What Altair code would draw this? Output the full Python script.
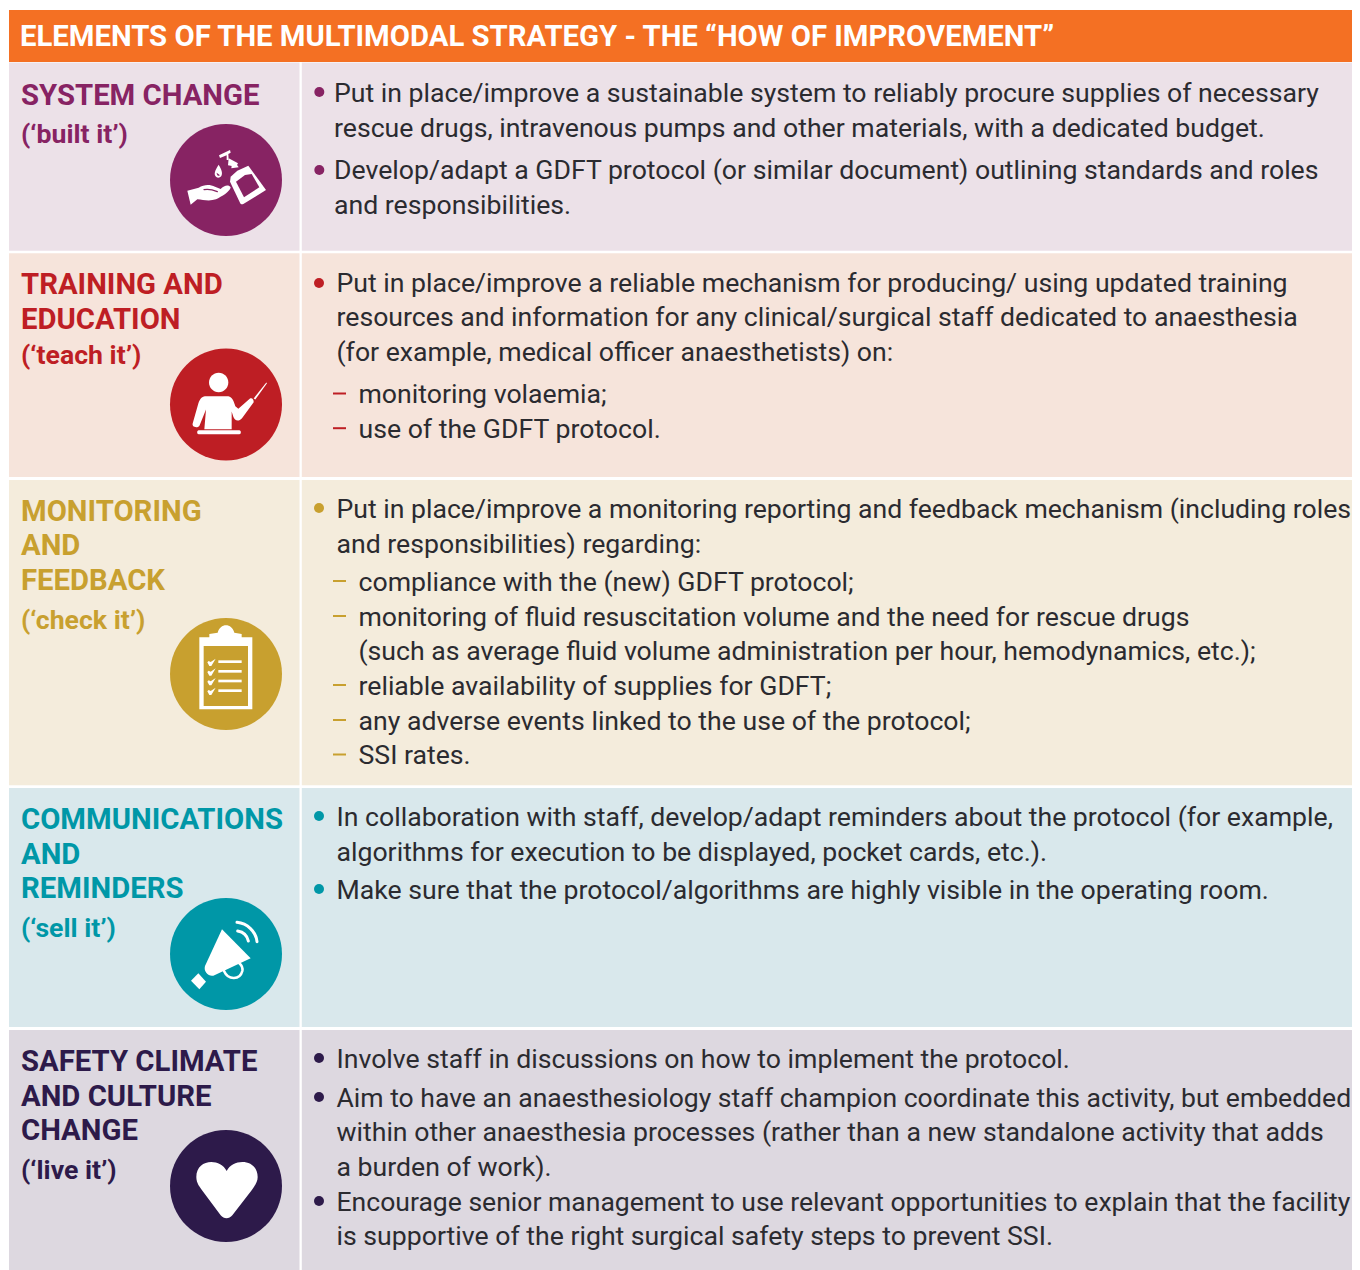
import re
import altair as alt
import pandas as pd

# ---------- content ----------
HEADER = "ELEMENTS OF THE MULTIMODAL STRATEGY - THE “HOW OF IMPROVEMENT”"
TITLES = [
    ["SYSTEM CHANGE"],
    ["TRAINING AND", "EDUCATION"],
    ["MONITORING", "AND", "FEEDBACK"],
    ["COMMUNICATIONS", "AND", "REMINDERS"],
    ["SAFETY CLIMATE", "AND CULTURE", "CHANGE"],
]
TAGS = ["(‘built it’)", "(‘teach it’)", "(‘check it’)", "(‘sell it’)", "(‘live it’)"]
BODY = [
    ["Put in place/improve a sustainable system to reliably procure supplies of necessary",
     "rescue drugs, intravenous pumps and other materials, with a dedicated budget.",
     "Develop/adapt a GDFT protocol (or similar document) outlining standards and roles",
     "and responsibilities."],
    ["Put in place/improve a reliable mechanism for producing/ using updated training",
     "resources and information for any clinical/surgical staff dedicated to anaesthesia",
     "(for example, medical officer anaesthetists) on:",
     "monitoring volaemia;",
     "use of the GDFT protocol."],
    ["Put in place/improve a monitoring reporting and feedback mechanism (including roles",
     "and responsibilities) regarding:",
     "compliance with the (new) GDFT protocol;",
     "monitoring of fluid resuscitation volume and the need for rescue drugs",
     "(such as average fluid volume administration per hour, hemodynamics, etc.);",
     "reliable availability of supplies for GDFT;",
     "any adverse events linked to the use of the protocol;",
     "SSI rates."],
    ["In collaboration with staff, develop/adapt reminders about the protocol (for example,",
     "algorithms for execution to be displayed, pocket cards, etc.).",
     "Make sure that the protocol/algorithms are highly visible in the operating room."],
    ["Involve staff in discussions on how to implement the protocol.",
     "Aim to have an anaesthesiology staff champion coordinate this activity, but embedded",
     "within other anaesthesia processes (rather than a new standalone activity that adds",
     "a burden of work).",
     "Encourage senior management to use relevant opportunities to explain that the facility",
     "is supportive of the right surgical safety steps to prevent SSI."],
]

# ---------- styles ----------
ORANGE = "#F47023"
INK = "#2B2B30"
ACCENT = ["#872363", "#BE1E24", "#C8A02F", "#0097A7", "#2D1A4A"]
TINT = ["#ECE1E8", "#F6E4DB", "#F4ECDC", "#D9E8EC", "#DDD8E0"]

# ---------- layout (page pixels) ----------
PAGE_W = 1352  # the page has room for a 1344 px wide chart
ROW_TOP = [62.5, 253.3, 480, 788, 1030]
ROW_BOTTOM = [250.8, 477, 785.3, 1027, 1270]
TITLE_Y = [[105], [294, 329], [521, 555, 590], [829, 864, 898], [1071, 1106, 1140]]
TAG_Y = [143, 364, 629, 937, 1179]
BODY_Y = [[102, 137, 179, 214], [292, 326, 361, 403, 438],
          [518, 553, 591, 626, 660, 695, 730, 764], [826, 861, 899],
          [1068, 1107, 1141, 1176, 1211, 1245]]
BODY_X = [[334, 334, 334, 334], [336.5, 336.5, 336.5, 358.5, 358.5],
          [336.5, 336.5, 358.5, 358.5, 358.5, 358.5, 358.5, 358.5],
          [336.5, 336.5, 336.5], [336.5, 336.5, 336.5, 336.5, 336.5, 336.5]]
BULLET_Y = [[92, 170], [283], [508], [816, 889], [1058, 1097, 1201]]
BULLET_X = [319.3, 319, 319, 319, 319]
DASH_Y = [[], [393.5, 428.2], [581, 616, 685, 720, 754.5], [], []]
ICON_Y = [180, 404.5, 674, 954, 1186]
ICON_X = 226
ICON_D = 112
BODY_SIZE = 26.65
LONG_SIZE = {(2, 0): 26.62, (4, 1): 26.55, (4, 4): 26.55}  # lines that reach the right edge
TITLE_SIZE = 29.3
HEADER_SIZE = 29.3
TAG_SIZE = 26.65

SX = alt.Scale(domain=[8, PAGE_W], range=[0, PAGE_W - 8])
SY = alt.Scale(domain=[8, 1270], range=[0, 1262])
X = alt.X("x:Q", scale=SX, axis=None)
Y = alt.Y("y:Q", scale=SY, axis=None)
X2 = alt.X2("x2:Q")
Y2 = alt.Y2("y2:Q")
FILL = alt.Color("c:N", scale=None, legend=None)

# ---------- tables ----------
rects = [dict(x=9, x2=PAGE_W, y=10, y2=62, c=ORANGE)]
for top, bot, t in zip(ROW_TOP, ROW_BOTTOM, TINT):
    rects.append(dict(x=9, x2=299.5, y=top, y2=bot, c=t))
    rects.append(dict(x=301.8, x2=PAGE_W, y=top, y2=bot, c=t))

title_rows, tag_rows, body_rows, bullet_rows, dash_rows = [], [], [], [], []
for i in range(5):
    for s, y in zip(TITLES[i], TITLE_Y[i]):
        title_rows.append(dict(x=21, y=y, t=s, c=ACCENT[i]))
    tag_rows.append(dict(x=21, y=TAG_Y[i], t=TAGS[i], c=ACCENT[i]))
    for j, (s, x, y) in enumerate(zip(BODY[i], BODY_X[i], BODY_Y[i])):
        body_rows.append(dict(x=x, y=y, t=s, fs=LONG_SIZE.get((i, j), BODY_SIZE)))
    for y in BULLET_Y[i]:
        bullet_rows.append(dict(x=BULLET_X[i], y=y, c=ACCENT[i]))
    for y in DASH_Y[i]:
        dash_rows.append(dict(x=333, x2=346, y=y, c=ACCENT[i]))

layers = [
    alt.Chart(pd.DataFrame(rects)).mark_rect(stroke=None).encode(x=X, x2=X2, y=Y, y2=Y2, color=FILL),
    alt.Chart(pd.DataFrame([dict(x=20, y=46, t=HEADER)])).mark_text(
        align="left", baseline="alphabetic", font="Roboto", fontWeight=700, fontSize=HEADER_SIZE, color="#FFFFFF"
    ).encode(x=X, y=Y, text="t:N"),
    alt.Chart(pd.DataFrame(title_rows)).mark_text(
        align="left", baseline="alphabetic", font="Roboto", fontWeight=700, fontSize=TITLE_SIZE
    ).encode(x=X, y=Y, text="t:N", color=FILL),
    alt.Chart(pd.DataFrame(tag_rows)).mark_text(
        align="left", baseline="alphabetic", font="Roboto", fontWeight=700, fontSize=TAG_SIZE
    ).encode(x=X, y=Y, text="t:N", color=FILL),
    alt.Chart(pd.DataFrame(body_rows)).mark_text(
        align="left", baseline="alphabetic", font="Roboto", fontWeight=400, color=INK
    ).encode(x=X, y=Y, text="t:N", size=alt.Size("fs:Q", scale=None, legend=None)),
    alt.Chart(pd.DataFrame(bullet_rows)).mark_point(filled=True, shape="circle", size=100, opacity=1, strokeWidth=0).encode(
        x=X, y=Y, color=FILL),
    alt.Chart(pd.DataFrame(dash_rows)).mark_rule(strokeWidth=2).encode(x=X, x2=X2, y=Y, color=FILL),
    alt.Chart(pd.DataFrame([dict(x=ICON_X, y=y, c=c) for y, c in zip(ICON_Y, ACCENT)])).mark_point(
        filled=True, shape="circle", size=ICON_D ** 2, opacity=1, strokeWidth=0
    ).encode(x=X, y=Y, color=FILL),
]


# ---------- icon glyphs, traced from the 3x view (cx, cy = disc centre in that view) ----------
def glyph(d, cx, cy):
    n = [0]
    def rep(m):
        v = float(m.group(0))
        k = n[0]
        n[0] += 1
        return f"{((v - (cy if k % 2 else cx)) / 3):.2f}"
    return re.sub(r"-?\d+(\.\d+)?", rep, d)


def icon(i, d, cx, cy, fill="#FFFFFF", stroke=None, sw=0):
    kw = dict(shape=glyph(d, cx, cy), size=4, opacity=1)
    if stroke:
        kw.update(filled=False, stroke=stroke, strokeWidth=sw, strokeCap="round")
    else:
        kw.update(filled=True, fill=fill, strokeWidth=0)
    return alt.Chart(pd.DataFrame([dict(x=ICON_X, y=ICON_Y[i])])).mark_point(**kw).encode(x=X, y=Y)


W = "#FFFFFF"
# soap and hand
C1 = (678, 540)
layers += [
    icon(0, "M562 572 L596 563 C612 553 630 553 645 560 L662 567 C672 556 686 552 692 562 C690 575 665 590 648 598 C630 604 610 600 592 598 L572 614 Z", *C1),
    icon(0, "M612 569 C625 566 640 570 652 575", *C1, stroke=ACCENT[0], sw=1.2),
    icon(0, "M692 530 L712 512 L745 497 L798 570 L730 612 C725 614 722 612 720 608 L690 545 Z", *C1),
    icon(0, "M694 505 L696 490 L712 496 L716 502 Z", *C1),
    icon(0, "M686 475 L714 490 L708 500 L684 496 Z", *C1),
    icon(0, "M657 466 L690 450 L692 458 L685 462 L686 480 L680 480 L680 466 L660 474 Z", *C1),
    icon(0, "M708 545 L735 525 L755 522 L778 562 L732 592 Z", *C1, fill=ACCENT[0]),
    icon(0, "M656 494 C666 510 668 520 664 528 C658 536 648 534 645 526 C642 518 648 506 656 494 Z", *C1),
    icon(0, "M650 518 C650 525 655 530 660 526 L655 522 Z", *C1, fill=ACCENT[0]),
]
# teacher
C2 = (228, 193)
layers += [
    icon(1, "M206 98 C222 98 235 111 235 127 C235 143 222 156 206 156 C190 156 177 143 177 127 C177 111 190 98 206 98 Z", *C2),
    icon(1, "M165 168 L235 168 C247 170 252 185 256 198 L265 206 L300 175 C306 172 312 178 311 186 L276 234 C266 246 254 242 250 230 L245 214 L245 267 L163 267 L168 208 L149 255 C145 265 125 262 128 250 L145 190 C150 175 155 170 165 168 Z", *C2),
    icon(1, "M311 175 L349 127 L351 129 L316 178 Z", *C2),
    icon(1, "M146 270 L268 270 C274 270 274 282 268 282 L146 282 C140 282 140 270 146 270 Z", *C2),
]
# clipboard
C3 = (228, 192)
layers += [
    icon(2, "M148 82 L178 82 L178 72 L203 68 C210 38 246 38 253 68 L275 72 L275 82 L307 82 L307 298 L148 298 Z", *C3),
    icon(2, "M161 108 L294 108 L294 288 L161 288 Z", *C3, fill=ACCENT[2]),
]
for yy in [155, 184, 213, 242]:
    layers.append(icon(2, f"M205 {yy-4} L275 {yy-4} L275 {yy+4} L205 {yy+4} Z", *C3))
    layers.append(icon(2, f"M172 {yy+2} L176 {yy-2} L182 {yy+1} L197 {yy-9} L184 {yy+13} L178 {yy+13} Z", *C3))
# megaphone
C4 = (228, 192)
layers += [
    icon(3, "M222 243 C235 272 270 270 277 243 C279 233 275 226 268 220", *C4, stroke=W, sw=2.6),
    icon(3, "M216 118 L302 205 L190 257 C175 260 160 245 165 228 Z", *C4),
    icon(3, "M145 250 L168 275 L148 298 L123 272 Z", *C4),
    icon(3, "M261 97 C292 100 318 125 321 155", *C4, stroke=W, sw=3),
    icon(3, "M263 123 C280 126 292 138 295 153", *C4, stroke=W, sw=3),
]
# heart
C5 = (228, 197)
layers.append(icon(4, "M230 152 C210 112 139 115 139 170 C139 190 150 200 160 215 L212 285 C222 297 237 297 247 285 L305 210 C315 195 323 185 323 170 C323 115 250 112 230 152 Z", *C5))

chart = alt.layer(*layers).properties(
    width=PAGE_W - 8, height=1262, padding=0, autosize=alt.AutoSizeParams(type="none"),
).configure_view(stroke=None)

chart.save("out.html", embed_options={"renderer": "svg", "actions": False})
